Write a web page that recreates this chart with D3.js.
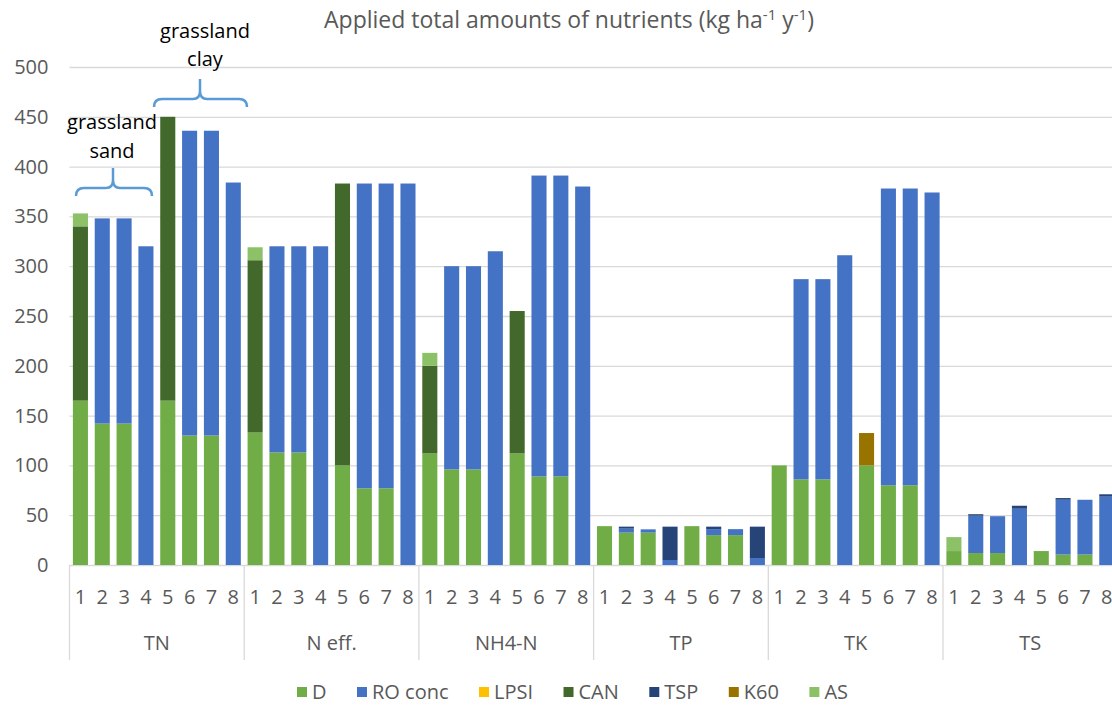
<!DOCTYPE html>
<html>
<head>
<meta charset="utf-8">
<script src="https://cdn.jsdelivr.net/npm/d3@7"></script>
<style>
  body { margin: 0; background: #fff; }
  text { font-family: "Open Sans", sans-serif; }
</style>
</head>
<body>
<div id="chart"></div>
<script>
// categories
var groups = ["TN", "N eff.", "NH4-N", "TP", "TK", "TS"];
var treatments = ["1", "2", "3", "4", "5", "6", "7", "8"];
var seriesNames = ["D", "RO conc", "LPSI", "CAN", "TSP", "K60", "AS"];
var colors = ["#70AD47", "#4472C4", "#FFC000", "#43682B", "#264478", "#997300", "#8CC168"];
var yTicks = [0, 50, 100, 150, 200, 250, 300, 350, 400, 450, 500];

// values, one row of 8 treatments per nutrient group (TN, N eff., NH4-N, TP, TK, TS)
var D = [
  165, 142, 142, 0, 165, 130, 130, 0,
  133, 113, 113, 0, 100, 77, 77, 0,
  112, 96, 96, 0, 112, 89, 89, 0,
  39, 32.5, 32.5, 0, 39, 30, 30, 0,
  100, 86, 86, 0, 100, 80, 80, 0,
  14, 12, 12, 0, 14, 10.5, 10.5, 0
];
var RO = [
  0, 206, 206, 320, 0, 306, 306, 384,
  0, 207, 207, 320, 0, 306, 306, 383,
  0, 204, 204, 315, 0, 302, 302, 380,
  0, 4, 3.3, 5, 0, 6, 6, 7,
  0, 201, 201, 311, 0, 298, 298, 374,
  0, 37.5, 37, 56.5, 0, 55, 55, 68.6
];
var LPSI = [
  0, 0, 0, 0, 0, 0, 0, 0,
  0, 0, 0, 0, 0, 0, 0, 0,
  0, 0, 0, 0, 0, 0, 0, 0,
  0, 0, 0, 0, 0, 0, 0, 0,
  0, 0, 0, 0, 0, 0, 0, 0,
  0, 0, 0, 0, 0, 0, 0, 0
];
var CAN = [
  175, 0, 0, 0, 285, 0, 0, 0,
  173, 0, 0, 0, 283, 0, 0, 0,
  88, 0, 0, 0, 143, 0, 0, 0,
  0, 0, 0, 0, 0, 0, 0, 0,
  0, 0, 0, 0, 0, 0, 0, 0,
  0, 0, 0, 0, 0, 0, 0, 0
];
var TSP = [
  0, 0, 0, 0, 0, 0, 0, 0,
  0, 0, 0, 0, 0, 0, 0, 0,
  0, 0, 0, 0, 0, 0, 0, 0,
  0, 2, 0, 33.5, 0, 2.5, 0, 31.5,
  0, 0, 0, 0, 0, 0, 0, 0,
  0, 1.5, 0, 3, 0, 1.7, 0, 2.4
];
var K60 = [
  0, 0, 0, 0, 0, 0, 0, 0,
  0, 0, 0, 0, 0, 0, 0, 0,
  0, 0, 0, 0, 0, 0, 0, 0,
  0, 0, 0, 0, 0, 0, 0, 0,
  0, 0, 0, 0, 32.5, 0, 0, 0,
  0, 0, 0, 0, 0, 0, 0, 0
];
var AS = [
  13, 0, 0, 0, 0, 0, 0, 0,
  13, 0, 0, 0, 0, 0, 0, 0,
  13, 0, 0, 0, 0, 0, 0, 0,
  0, 0, 0, 0, 0, 0, 0, 0,
  0, 0, 0, 0, 0, 0, 0, 0,
  14, 0, 0, 0, 0, 0, 0, 0
];

var seriesValues = [D, RO, LPSI, CAN, TSP, K60, AS];

const width = 1112,
  height = 706,
  plotLeft = 69.5,
  plotRight = 1117.7,
  plotTop = 67,
  plotBottom = 565,
  textColor = "#595959",
  gridColor = "#d9d9d9";

// table for d3.stack
var rows = [];
groups.forEach(function(g, gi) {
  treatments.forEach(function(t, ti) {
    var row = { key: g + "|" + t, group: g, treat: t };
    seriesNames.forEach(function(s, si) {
      row[s] = seriesValues[si][gi * 8 + ti];
    });
    rows.push(row);
  });
});

const svg = d3.select("#chart").append("svg")
  .attr("width", width)
  .attr("height", height);

const x = d3.scaleBand()
  .domain(rows.map(function(d) { return d.key; }))
  .range([plotLeft, plotRight])
  .paddingInner(0.31)
  .paddingOuter(0.155);

const y = d3.scaleLinear()
  .domain([0, 500])
  .range([plotBottom, plotTop]);

// gridlines
svg.append("g")
  .attr("transform", "translate(" + plotLeft + ",0)")
  .call(d3.axisLeft(y).tickValues(yTicks).tickSize(-(plotRight - plotLeft)).tickFormat(""))
  .call(function(g) { g.select(".domain").remove(); })
  .selectAll("line")
  .attr("stroke", gridColor)
  .attr("stroke-width", 1.3);

// y labels
svg.append("g")
  .attr("transform", "translate(" + plotLeft + ",0)")
  .call(d3.axisLeft(y).tickValues(yTicks).tickSize(0).tickPadding(21))
  .call(function(g) { g.select(".domain").remove(); })
  .selectAll("text")
  .attr("fill", textColor)
  .style("font-size", "20px")
  .style("font-family", "'Open Sans', sans-serif");

// stacked bars
var stacked = d3.stack().keys(seriesNames)(rows);

svg.append("g")
  .selectAll("g")
  .data(stacked)
  .enter().append("g")
  .attr("fill", function(d, i) { return colors[i]; })
  .selectAll("rect")
  .data(function(d) { return d; })
  .enter().append("rect")
  .attr("x", function(d) { return x(d.data.key); })
  .attr("y", function(d) { return y(d[1]); })
  .attr("width", x.bandwidth())
  .attr("height", function(d) { return y(d[0]) - y(d[1]); });

// x axis: treatment numbers
svg.append("g")
  .attr("transform", "translate(0," + plotBottom + ")")
  .call(d3.axisBottom(x).tickSize(0).tickPadding(25)
    .tickFormat(function(d) { return d.split("|")[1]; }))
  .call(function(g) { g.select(".domain").remove(); })
  .selectAll("text")
  .attr("fill", textColor)
  .style("font-size", "20px")
  .style("font-family", "'Open Sans', sans-serif");

// group dividers and labels
var groupWidth = x.step() * treatments.length;
svg.append("g")
  .selectAll("line")
  .data(d3.range(groups.length + 1))
  .enter().append("line")
  .attr("x1", function(i) { return plotLeft + i * groupWidth; })
  .attr("x2", function(i) { return plotLeft + i * groupWidth; })
  .attr("y1", plotBottom)
  .attr("y2", 660)
  .attr("stroke", gridColor)
  .attr("stroke-width", 1.3);

svg.append("g")
  .selectAll("text")
  .data(groups)
  .enter().append("text")
  .attr("x", function(d, i) { return plotLeft + (i + 0.5) * groupWidth; })
  .attr("y", 650)
  .attr("text-anchor", "middle")
  .attr("fill", textColor)
  .style("font-size", "20px")
  .text(function(d) { return d; });

// title
var title = svg.append("text")
  .attr("x", 569)
  .attr("y", 28)
  .attr("text-anchor", "middle")
  .attr("fill", textColor)
  .style("font-size", "23px");
title.append("tspan").text("Applied total amounts of nutrients (kg ha");
title.append("tspan").attr("dy", -8).style("font-size", "15px").text("-1");
title.append("tspan").attr("dy", 8).text(" y");
title.append("tspan").attr("dy", -8).style("font-size", "15px").text("-1");
title.append("tspan").attr("dy", 8).text(")");

// annotations
function brace(x0, x1, xm, yl, tip) {
  return "M" + x0 + "," + (yl + 8) +
    " Q" + x0 + "," + yl + " " + (x0 + 8) + "," + yl +
    " L" + (xm - 7) + "," + yl +
    " Q" + xm + "," + yl + " " + xm + "," + (yl - 8) +
    " L" + xm + "," + tip +
    " M" + xm + "," + (yl - 8) +
    " Q" + xm + "," + yl + " " + (xm + 7) + "," + yl +
    " L" + (x1 - 8) + "," + yl +
    " Q" + x1 + "," + yl + " " + x1 + "," + (yl + 8);
}

svg.append("path")
  .attr("d", brace(76, 152, 113, 188, 168))
  .attr("fill", "none")
  .attr("stroke", "#5B9BD5")
  .attr("stroke-width", 2.5);
svg.append("path")
  .attr("d", brace(154, 247, 200, 99, 79))
  .attr("fill", "none")
  .attr("stroke", "#5B9BD5")
  .attr("stroke-width", 2.5);

var notes = [
  { text: "grassland", x: 112, y: 129 },
  { text: "sand", x: 112, y: 158 },
  { text: "grassland", x: 205, y: 38 },
  { text: "clay", x: 205, y: 66 }
];
svg.append("g")
  .selectAll("text")
  .data(notes)
  .enter().append("text")
  .attr("x", function(d) { return d.x; })
  .attr("y", function(d) { return d.y; })
  .attr("text-anchor", "middle")
  .attr("fill", "#000")
  .style("font-size", "20px")
  .text(function(d) { return d.text; });

// legend
var legend = svg.append("g").attr("id", "legend");
var items = legend.selectAll("g")
  .data(seriesNames)
  .enter().append("g");
items.append("rect")
  .attr("width", 10)
  .attr("height", 10)
  .attr("y", 687)
  .attr("fill", function(d, i) { return colors[i]; });
items.append("text")
  .attr("x", 15)
  .attr("y", 699)
  .attr("fill", textColor)
  .style("font-size", "20px")
  .text(function(d) { return d; });

var widths = [];
items.each(function() {
  widths.push(15 + d3.select(this).select("text").node().getComputedTextLength());
});
var span = 848 - 297;
var gap = (span - d3.sum(widths)) / (widths.length - 1);
var pos = 297;
items.each(function(d, i) {
  d3.select(this).attr("transform", "translate(" + pos + ",0)");
  pos += widths[i] + gap;
});
</script>
</body>
</html>
